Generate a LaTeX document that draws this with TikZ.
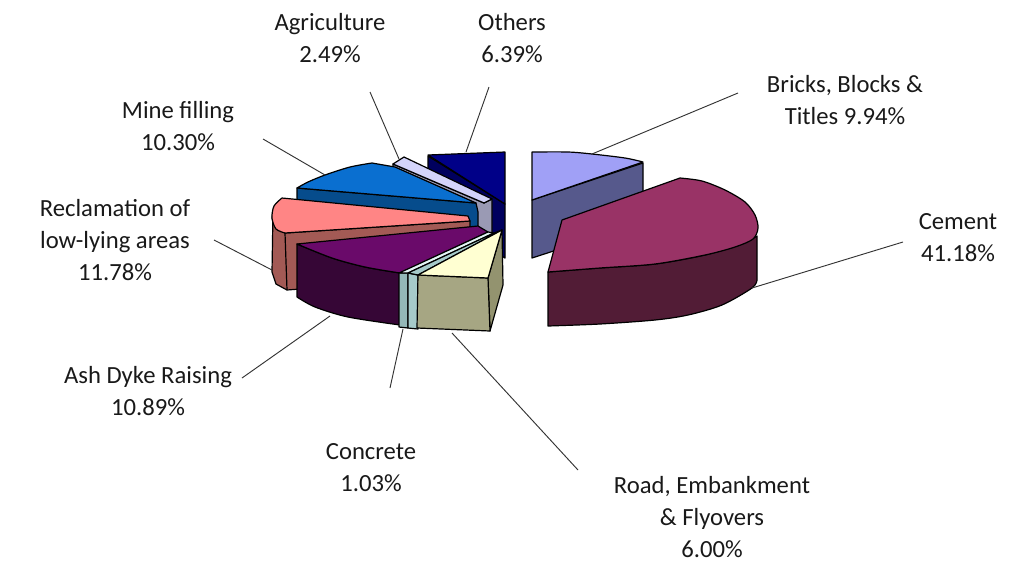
\documentclass[tikz,border=0pt]{standalone}
\usepackage{fontspec}
\setmainfont{Carlito}
\definecolor{othTop}{HTML}{000088}
\definecolor{othSide}{HTML}{00005E}
\definecolor{agTop}{HTML}{D4D4FA}
\definecolor{agSide}{HTML}{9A9AB4}
\definecolor{miTop}{HTML}{0A6FD0}
\definecolor{miSide}{HTML}{064C8C}
\definecolor{reTop}{HTML}{FF8585}
\definecolor{reSide}{HTML}{A35A55}
\definecolor{asTop}{HTML}{6A0A6A}
\definecolor{asSide}{HTML}{360636}
\definecolor{coTop}{HTML}{E4F6F6}
\definecolor{coMid}{HTML}{A6CACA}
\definecolor{coSide}{HTML}{94B8B8}
\definecolor{roTop}{HTML}{FFFFD2}
\definecolor{roSide}{HTML}{A6A683}
\definecolor{roDark}{HTML}{93936F}
\definecolor{brTop}{HTML}{A0A0F6}
\definecolor{brSide}{HTML}{56598C}
\definecolor{ceTop}{HTML}{993366}
\definecolor{ceSide}{HTML}{521C36}
\begin{document}
\begin{tikzpicture}[x=0.75pt,y=-0.75pt,
  face/.style={draw=black,line width=0.9pt,line join=round},
  lbl/.style={font=\fontsize{18.5}{24}\selectfont,align=center,inner sep=0pt,text=black!90},
  lead/.style={draw=black!80,line width=0.7pt}]
\useasboundingbox (0,0) rectangle (1028,565);

% Others
\path[face,fill=othSide] (428,156) -- (505,204) -- (505,258) -- (428,212) -- cycle;
\path[face,fill=othTop] (428,155) -- (505,152) -- (505,204) -- cycle;
% Agriculture
\path[face,fill=agSide] (393,164) -- (484,203) -- (492,199) -- (492,233) -- (484,237) -- (393,197) -- cycle;
\path[face,fill=agTop] (393,164) -- (404,157) -- (492,199) -- (484,203) -- cycle;
% Mine filling
\path[face,fill=miSide] (297,188) -- (476,203) -- (478,212) -- (478,258) -- (297,243) -- cycle;
\path[face,fill=miTop] plot[smooth] coordinates {(297,188) (308,182) (325,175) (350,167) (372,163)} -- (395,167) -- (476,203) -- cycle;
% Reclamation
\path[face,fill=reSide] plot[smooth] coordinates {(273,210) (273,222) (285,233)} -- (470,221) -- (470,276) -- (287,290) -- (276,284) -- (272,272) -- cycle;
\draw[face] (285,233) -- (287,290);
\path[face,fill=reTop] (282,198) -- (468,216) -- (470,221) -- (285,233) -- plot[smooth] coordinates {(285,233) (276,229) (272,218) (274,206) (282,198)} -- cycle;
% Ash Dyke Raising
\path[face,fill=asSide] plot[smooth] coordinates {(297,244) (332,258) (365,267) (400,273)} -- (400,325) -- plot[smooth] coordinates {(400,325) (348,317) (315,307) (297,297)} -- cycle;
\path[face,fill=asTop] (297,244) -- (478,226) -- (488,232) -- (400,273) -- plot[smooth] coordinates {(400,273) (365,267) (332,258) (297,244)} -- cycle;
% Concrete
\path[face,fill=coSide] (399,273) -- (408,273) -- (408,328) -- (399,327) -- cycle;
\path[face,fill=coMid] (408,273) -- (418,275) -- (418,329) -- (408,328) -- cycle;
\path[face,fill=coTop] (399,273) -- (488,232) -- (494,233) -- (408,273) -- cycle;
\path[face,fill=coMid] (408,273) -- (494,233) -- (502,230) -- (418,275) -- cycle;
% Road, Embankment & Flyovers
\path[face,fill=roDark] (488,278) -- (502,230) -- (503,285) -- (490,331) -- cycle;
\path[face,fill=roSide] (418,275) -- (488,278) -- (490,331) -- (417,328) -- cycle;
\path[face,fill=roTop] (418,275) -- (502,230) -- (488,278) -- cycle;
% Bricks
\path[face,fill=brSide] (532,200) -- (643,163) -- (643,222) -- (532,258) -- cycle;
\path[face,fill=brTop] plot[smooth] coordinates {(532,152) (568,152) (592,154) (625,158) (643,162)} -- (532,200) -- cycle;
% Cement
\path[face,fill=ceSide] plot[smooth] coordinates {(548,272) (600,268) (655,264) (705,255) (742,244) (757,236)} -- (757,280) -- plot[smooth] coordinates {(757,280) (752,288) (722,305) (688,315) (655,320) (600,324) (548,326)} -- cycle;
\path[face,fill=ceTop] (562,220) -- (680,178) -- plot[smooth] coordinates {(680,178) (702,181) (725,190) (745,202) (755,215) (758,228) (753,239) (735,247) (705,255) (655,264) (600,268) (548,272)} -- cycle;

% labels
\node[lbl] (agT) at (330,38) {Agriculture\\2.49\%};
\node[lbl] (otT) at (512,38) {Others\\6.39\%};
\node[lbl] (brT) at (845,100) {Bricks, Blocks \&\\Titles 9.94\%};
\node[lbl] (miT) at (178,126) {Mine filling\\10.30\%};
\node[lbl] (reT) at (115,240) {Reclamation of\\low-lying areas\\11.78\%};
\node[lbl] (ceT) at (958,238) {Cement\\41.18\%};
\node[lbl] (asT) at (148,391) {Ash Dyke Raising\\10.89\%};
\node[lbl] (coT) at (371,468) {Concrete\\1.03\%};
\node[lbl] (roT) at (712,517) {Road, Embankment\\\& Flyovers\\6.00\%};

% leader coordinates
\coordinate (agL) at (370,92);  \coordinate (agP) at (399,159);
\coordinate (otL) at (489,87);  \coordinate (otP) at (466,152);
\coordinate (miL) at (263,139); \coordinate (miP) at (325,175);
\coordinate (reL) at (214,240); \coordinate (reP) at (272,270);
\coordinate (asL) at (242,378); \coordinate (asP) at (330,316);
\coordinate (coL) at (390,388); \coordinate (coP) at (403,329);
\coordinate (roL) at (578,470); \coordinate (roP) at (452,333);
\coordinate (brL) at (738,93);  \coordinate (brP) at (592,154);
\coordinate (ceL) at (903,242); \coordinate (ceP) at (752,288);
\draw[lead] (agL) -- (agP);
\draw[lead] (otL) -- (otP);
\draw[lead] (miL) -- (miP);
\draw[lead] (reL) -- (reP);
\draw[lead] (asL) -- (asP);
\draw[lead] (coL) -- (coP);
\draw[lead] (roL) -- (roP);
\draw[lead] (brL) -- (brP);
\draw[lead] (ceL) -- (ceP);
\end{tikzpicture}
\end{document}
